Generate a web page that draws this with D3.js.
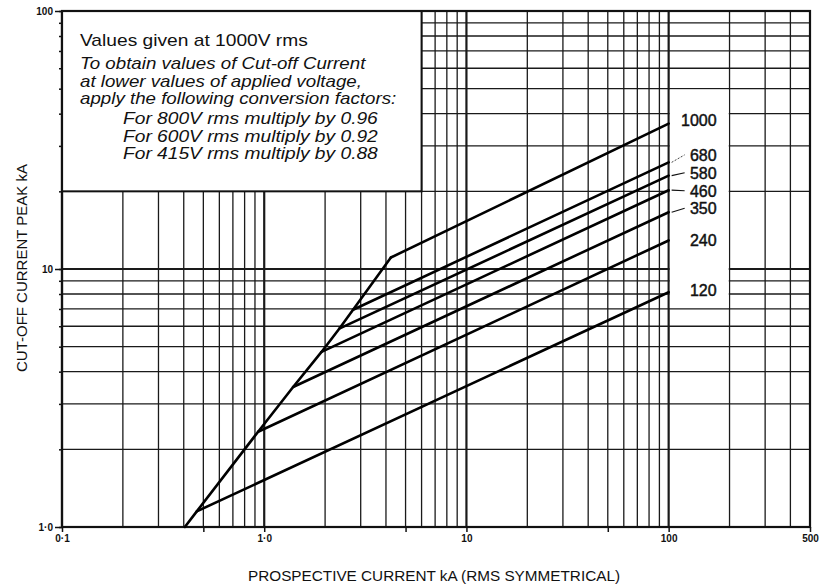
<!DOCTYPE html>
<html><head><meta charset="utf-8">
<script src="https://cdn.jsdelivr.net/npm/d3@7"></script>
<style>body{margin:0;background:#fff}svg{display:block}text{font-family:"Liberation Sans",Arial,Helvetica,sans-serif;fill:#111}</style>
</head><body><svg id="c" width="821" height="586"></svg>
<script>
// ---- data ----
const xTickValues = [0.1, 1, 10, 100, 500];
const xTickLabels = ["0·1", "1·0", "10", "100", "500"];
const xTickMarks = [0.1, 0.5, 1, 5, 10, 50, 100, 500];
const yTickValues = [1, 10, 100];
const yTickLabels = ["1·0", "10", "100"];
const ratings = ["120", "240", "350", "460", "580", "680", "1000"];
const rampStart = [0.405, 1.0];              // [prospective kA, peak kA]
const kneeCurrent = [0.464, 0.933, 1.39, 1.92, 2.35, 2.75, 4.23];
const kneePeak = [1.15, 2.34, 3.49, 4.77, 5.87, 6.95, 11.08];
const endCurrent = [100, 100, 100, 100, 100, 100, 100];
const endPeak = [8.13, 12.9, 16.6, 20.2, 23.0, 25.9, 36.6];
const labelPeak = [8.29, 12.9, 17.2, 20.1, 23.6, 27.7, 37.6];
const leaderStyle = ["none", "none", "solid", "solid", "solid", "dashed", "none"];
const noteTitle = "Values given at 1000V rms";
const noteLines = ["To obtain values of Cut-off Current", "at lower values of applied voltage,", "apply the following conversion factors:"];
const factorLines = ["For 800V rms multiply by 0.96", "For 600V rms multiply by 0.92", "For 415V rms multiply by 0.88"];
const xTitle = "PROSPECTIVE CURRENT kA (RMS SYMMETRICAL)";
const yTitle = "CUT-OFF CURRENT PEAK kA";

// ---- chart ----
const svg = d3.select("#c");
svg.append("rect").attr("width", 821).attr("height", 586).attr("fill", "#fff");
const x = d3.scaleLog().domain([0.1, 500]).range([62, 810]);
const y = d3.scaleLog().domain([1, 100]).range([527, 11]);
const isMajor = v => Math.abs(Math.log10(v) - Math.round(Math.log10(v))) < 1e-9;

const grid = svg.append("g").attr("stroke", "#1a1a1a");
grid.selectAll(".vx").data(x.ticks()).join("line")
  .attr("x1", d => x(d)).attr("x2", d => x(d)).attr("y1", y(100)).attr("y2", y(1))
  .attr("stroke-width", d => isMajor(d) ? 2.2 : 1.3);
grid.selectAll(".hy").data(y.ticks()).join("line")
  .attr("y1", d => y(d)).attr("y2", d => y(d)).attr("x1", x(0.1)).attr("x2", x(500))
  .attr("stroke-width", d => isMajor(d) ? 2.2 : 1.3);

// white label area right of 100 kA
svg.append("rect").attr("x", x(100) + 1.2).attr("y", y(50) + 1)
  .attr("width", x(200) - x(100) - 2).attr("height", y(7) - y(50) - 2).attr("fill", "#fff");

// note box
svg.append("rect").attr("x", x(0.1)).attr("y", y(100)).attr("width", x(6) - x(0.1)).attr("height", y(20) - y(100))
  .attr("fill", "#fff").attr("stroke", "#111").attr("stroke-width", 2);
const note = svg.append("g");
const noteText = (t, tx, ty, italic, sx) => note.append("text")
  .attr("transform", `translate(${tx},${ty}) scale(${sx},1)`)
  .attr("font-size", 16).attr("font-style", italic ? "italic" : "normal").text(t);
noteText(noteTitle, 80, 46, false, 1.2);
noteLines.forEach((t, i) => noteText(t, 80, 69 + i * 17.5, true, 1.17));
factorLines.forEach((t, i) => noteText(t, 123, 124 + i * 17.5, true, 1.2));

// frame
svg.append("rect").attr("x", x(0.1)).attr("y", y(100)).attr("width", x(500) - x(0.1)).attr("height", y(1) - y(100))
  .attr("fill", "none").attr("stroke", "#111").attr("stroke-width", 2.2);

// axes
const ax = svg.append("g").attr("transform", `translate(0,${y(1)})`)
  .call(d3.axisBottom(x).tickValues(xTickMarks).tickSize(5).tickPadding(3).tickSizeOuter(0)
    .tickFormat(d => { const i = xTickValues.indexOf(d); return i >= 0 ? xTickLabels[i] : ""; }));
const ay = svg.append("g").attr("transform", `translate(${x(0.1)},0)`)
  .call(d3.axisLeft(y).tickValues(yTickValues).tickSize(7).tickPadding(2).tickSizeOuter(0)
    .tickFormat((d, i) => yTickLabels[i]));
const ay2 = svg.append("g").attr("transform", `translate(${x(0.1)},0)`)
  .call(d3.axisLeft(y).tickValues(y.ticks()).tickSize(3).tickSizeOuter(0).tickFormat(""));
[ax, ay, ay2].forEach(g => {
  g.select(".domain").remove();
  g.selectAll("line").attr("stroke", "#111").attr("stroke-width", 1.5);
  g.selectAll("text").attr("font-size", 10).attr("font-weight", "bold")
    .attr("font-family", '"Liberation Sans",Arial,sans-serif').attr("fill", "#111");
});

// curves
const line = d3.line().x(d => x(d[0])).y(d => y(d[1]));
const rampPts = [rampStart].concat(kneeCurrent.map((c, i) => [c, kneePeak[i]]));
const curves = svg.append("g").attr("fill", "none").attr("stroke", "#000").attr("stroke-width", 2.6)
  .attr("stroke-linejoin", "round").attr("stroke-linecap", "round");
curves.append("path").attr("d", line(rampPts));
curves.selectAll(".seg").data(ratings).join("path")
  .attr("d", (r, i) => line([[kneeCurrent[i], kneePeak[i]], [endCurrent[i], endPeak[i]]]));

// rating labels
const lab = svg.append("g");
ratings.forEach((r, i) => {
  const ly = y(labelPeak[i]);
  lab.append("text").attr("x", x(100) + 48).attr("y", ly).attr("dy", "0.36em").attr("text-anchor", "end")
    .attr("font-size", 16).attr("stroke", "#111").attr("stroke-width", 0.45).text(r);
  if (leaderStyle[i] !== "none") {
    lab.append("line").attr("x1", x(100) + 3).attr("y1", y(endPeak[i]))
      .attr("x2", x(100) + 16).attr("y2", ly).attr("stroke", "#111")
      .attr("stroke-width", leaderStyle[i] === "dashed" ? 0.8 : 1.2)
      .attr("stroke-dasharray", leaderStyle[i] === "dashed" ? "2,1.5" : null);
  }
});

// axis titles
svg.append("text").attr("x", (245 + 623) / 2).attr("y", 581).attr("text-anchor", "middle")
  .attr("font-size", 15.3).text(xTitle);
svg.append("text").attr("transform", "translate(27,268) rotate(-90)").attr("text-anchor", "middle")
  .attr("font-size", 15).text(yTitle);
</script></body></html>
